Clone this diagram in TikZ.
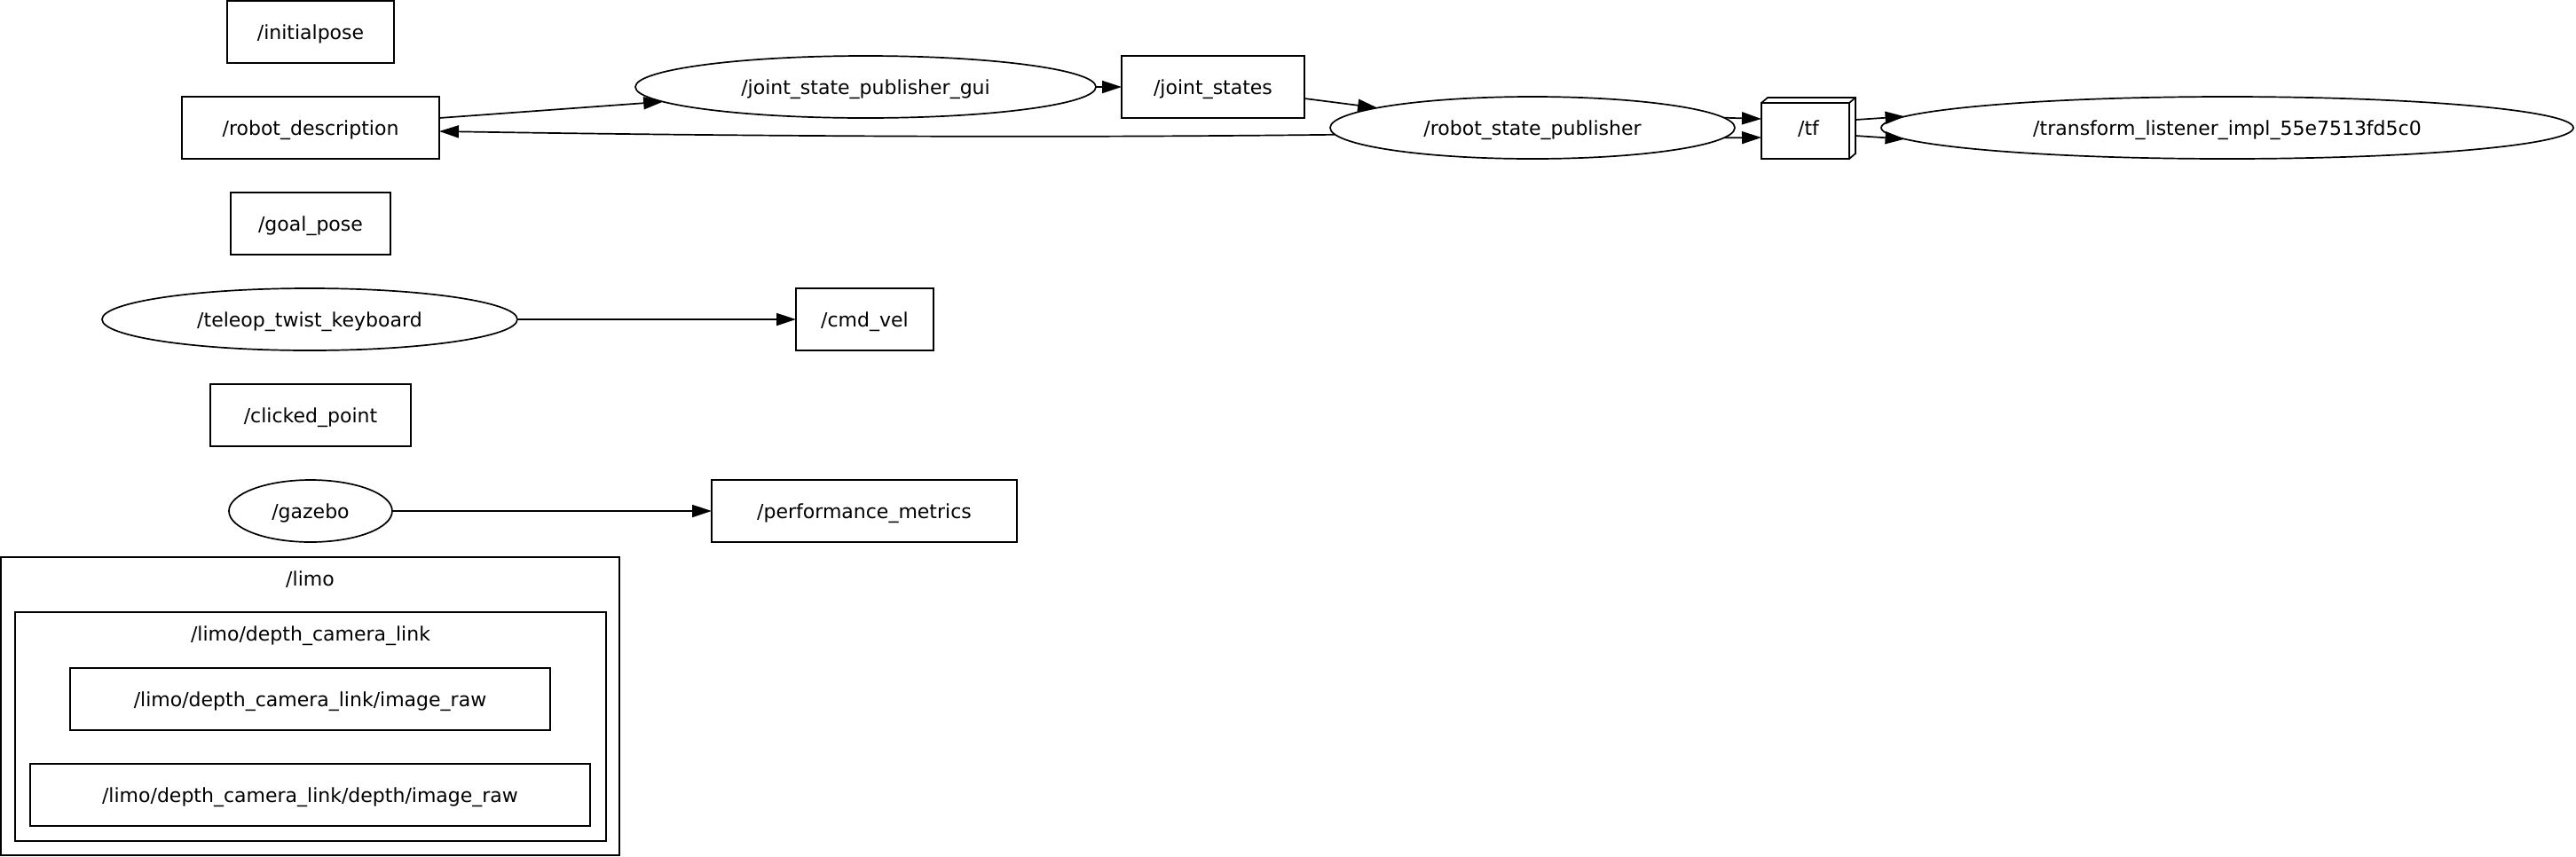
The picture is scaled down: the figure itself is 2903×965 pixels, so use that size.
\documentclass[tikz,border=0pt]{standalone}
\usepackage{fontspec}
\setmainfont{DejaVu Sans}
\usetikzlibrary{arrows.meta,shapes.geometric}
\tikzset{
  txt/.style={text height=9pt, text depth=1pt},
  topic/.style={draw, rectangle, inner sep=0pt, outer sep=0pt, minimum height=35pt, txt},
  nodeell/.style={draw, ellipse, inner sep=0pt, outer sep=0pt, minimum height=35pt, txt},
  clusterbox/.style={draw, rectangle, inner sep=0pt, outer sep=0pt},
  lbl/.style={inner sep=0pt, outer sep=0pt, txt},
  arr/.style={-{Triangle[length=11pt,width=7pt]}},
}
\begin{document}
\begin{tikzpicture}[x=0.5pt, y=-0.5pt, line width=0.85pt, font=\fontsize{11pt}{13pt}\selectfont]
\useasboundingbox (0,0) rectangle (2903,965);
% clusters
\node[clusterbox, minimum width=348.5pt, minimum height=168pt] (limo) at (349.5,796) {};
\node[lbl] (limolbl) at (349.5,652) {/limo};
\node[clusterbox, minimum width=333pt, minimum height=129pt] (dcl) at (350,819) {};
\node[lbl] (dcllbl) at (350,714) {/limo/depth\_camera\_link};
\node[topic, minimum width=270.5pt] (imgraw) at (349.5,788) {/limo/depth\_camera\_link/image\_raw};
\node[topic, minimum width=315.5pt] (depthraw) at (349.5,896) {/limo/depth\_camera\_link/depth/image\_raw};
% left column
\node[topic, minimum width=94pt] (initpose) at (350,36) {/initialpose};
\node[topic, minimum width=145pt] (rd) at (350,144) {/robot\_description};
\node[topic, minimum width=90pt] (goal) at (350,252) {/goal\_pose};
\node[nodeell, minimum width=234pt] (teleop) at (349,360) {/teleop\_twist\_keyboard};
\node[topic, minimum width=113pt] (clicked) at (350,468) {/clicked\_point};
\node[nodeell, minimum width=92pt] (gazebo) at (350,576) {/gazebo};
% middle / right
\node[nodeell, minimum width=259.5pt] (jsp) at (975.5,98) {/joint\_state\_publisher\_gui};
\node[topic, minimum width=103pt] (js) at (1367,98) {/joint\_states};
\node[nodeell, minimum width=228pt] (rsp) at (1727,144) {/robot\_state\_publisher};
\node[inner sep=0pt, outer sep=0pt, minimum width=53pt, minimum height=34.5pt, txt] (tf) at (2038,144.5) {/tf};
\draw (tf.south west) rectangle ([xshift=-3.5pt,yshift=-3pt]tf.north east);
\draw ([yshift=-3pt]tf.north west) -- ([xshift=3.5pt]tf.north west) -- (tf.north east) -- ([yshift=3pt]tf.south east) -- ([xshift=-3.5pt]tf.south east);
\draw ([xshift=-3.5pt,yshift=-3pt]tf.north east) -- (tf.north east);
\node[nodeell, minimum width=390pt] (tl) at (2510,144) {/transform\_listener\_impl\_55e7513fd5c0};
\node[topic, minimum width=77.5pt] (cmd) at (974.5,360) {/cmd\_vel};
\node[topic, minimum width=172pt] (perf) at (974,576) {/performance\_metrics};
% edges
\draw[arr] ([yshift=5.5pt]rd.east) -- (jsp);
\draw[arr] (jsp.east) -- (js.west);
\draw[arr] ([yshift=-6.5pt]js.east) -- (rsp);
\draw[arr] (rsp.182) .. controls (1150,156) and (800,153) .. ([yshift=-2pt]rd.east);
\draw[arr] (rsp.3) -- ([yshift=5.25pt]tf.west);
\draw[arr] (rsp.-3.5) -- ([yshift=-5.25pt]tf.west);
\draw[arr] ([yshift=4.75pt]tf.east) -- (tl.178);
\draw[arr] ([yshift=-4.25pt]tf.east) -- (tl.182);
\draw[arr] (teleop.east) -- (cmd.west);
\draw[arr] (gazebo.east) -- (perf.west);
\end{tikzpicture}
\end{document}
